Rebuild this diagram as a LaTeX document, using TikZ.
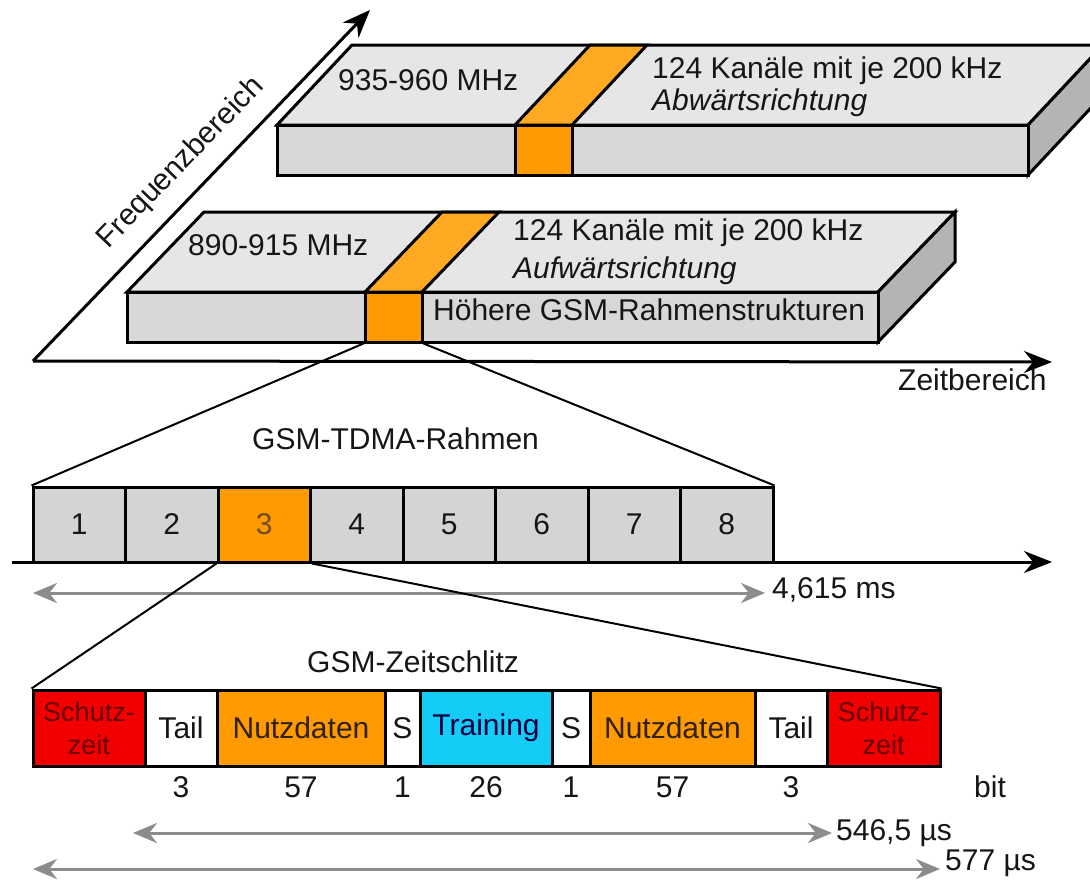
\documentclass[tikz,border=0pt]{standalone}
\usepackage{fontspec}
\setmainfont{Liberation Sans}
\usepackage{tikz}
\usetikzlibrary{arrows.meta}
\definecolor{txtgray}{HTML}{161616}
\definecolor{bandtop}{HTML}{E6E6E6}
\definecolor{bandfront}{HTML}{D8D8D8}
\definecolor{bandside}{HTML}{B4B4B4}
\definecolor{chanorange}{HTML}{FF9A00}
\definecolor{chantop}{HTML}{FFAA22}
\definecolor{slotgray}{HTML}{D4D4D4}
\definecolor{guardred}{HTML}{F20000}
\definecolor{trainblue}{HTML}{14CCF5}
\definecolor{dimgray}{HTML}{8C8C8C}
\tikzstyle{band}=[draw, line width=3pt, line join=miter]
\tikzstyle{chan}=[draw, line width=3pt, fill=chanorange, minimum width=57pt, minimum height=50pt, inner sep=0pt]
\tikzstyle{slot}=[draw, line width=3pt, fill=slotgray, minimum width=92.5pt, minimum height=75pt, inner sep=0pt]
\tikzstyle{burst}=[draw, line width=3pt, minimum height=76pt, inner sep=0pt, align=center]
\tikzstyle{axis}=[line width=3pt, -{Stealth[length=28pt, width=22pt]}]
\tikzstyle{dim}=[dimgray, line width=3pt, {Stealth[length=24pt, width=20pt]}-{Stealth[length=24pt, width=20pt]}]
\tikzstyle{zoomline}=[line width=2pt]

\begin{document}
\begin{tikzpicture}[x=1pt, y=-1pt, font=\fontsize{30}{34}\selectfont, text=txtgray]
    \clip (0,0) rectangle (1090,879);
    \fill[white] (0,0) rectangle (1090,879);

    \coordinate (o) at (33,361);
    \coordinate (fq) at (370,10);
    \coordinate (tm) at (1052,362);
    \draw[axis] (o) -- (fq);
    \draw[axis] (o) -- (tm);
    \node[rotate=46] (flabel) at (181,163) {Frequenzbereich};
    \node[anchor=base west, inner sep=0pt] (tlabel) at (898,390) {Zeitbereich};

    % Abwaertsrichtung
    \filldraw[band, fill=bandtop] (277,125) -- (352,45) -- (1103,45) -- (1028,125) -- cycle;
    \filldraw[band, fill=bandside] (1028,125) -- (1103,45) -- (1103,95) -- (1028,175) -- cycle;
    \filldraw[band, fill=bandfront] (277,125) rectangle (1028,175);
    \filldraw[band, fill=chantop] (515,125) -- (590,45) -- (647,45) -- (572,125) -- cycle;
    \node[chan] (dlch) at (543.5,150) {};
    \node[anchor=base west, inner sep=0pt] (dlfreq) at (338,90) {935-960 MHz};
    \node[anchor=base west, inner sep=0pt] (dlkan) at (652,78) {124 Kanäle mit je 200 kHz};
    \node[anchor=base west, inner sep=0pt] (dlname) at (652,110) {\itshape Abwärtsrichtung};

    % Aufwaertsrichtung
    \filldraw[band, fill=bandtop] (127,292) -- (204,212) -- (955,212) -- (878,292) -- cycle;
    \filldraw[band, fill=bandside] (878,292) -- (955,212) -- (955,262) -- (878,342) -- cycle;
    \filldraw[band, fill=bandfront] (127,292) rectangle (878,342);
    \filldraw[band, fill=chantop] (365,292) -- (442,212) -- (499,212) -- (422,292) -- cycle;
    \node[chan] (ulch) at (393.5,317) {};
    \node[anchor=base west, inner sep=0pt] (ulfreq) at (188,255) {890-915 MHz};
    \node[anchor=base west, inner sep=0pt] (ulkan) at (513,240) {124 Kanäle mit je 200 kHz};
    \node[anchor=base west, inner sep=0pt] (ulname) at (513,278) {\itshape Aufwärtsrichtung};
    \node[anchor=base west, inner sep=0pt] (ulrahmen) at (433,320) {Höhere GSM-Rahmenstrukturen};

    % TDMA-Rahmen
    \node[anchor=base west, inner sep=0pt] (tdma) at (252,449) {GSM-TDMA-Rahmen};
    \foreach \i in {1,2,4,5,6,7,8}
        \node[slot] (s\i) at ({92.5*\i-13.25},524.5) {\i};
    \node[slot, fill=chanorange, text=brown!60!black] (s3) at (264.25,524.5) {3};
    \coordinate (f0) at (12,562);
    \coordinate (f1) at (1052,562);
    \draw[axis] (f0) -- (f1);
    \draw[zoomline] (ulch.south west) -- (s1.north west);
    \draw[zoomline] (ulch.south east) -- (s8.north east);
    \coordinate (fa) at (33,593);
    \coordinate (fb) at (765,593);
    \draw[dim] (fa) -- (fb);
    \node[anchor=base west, inner sep=0pt] (fdur) at (772,598) {4,615 ms};

    % Zeitschlitz
    \node[anchor=base west, inner sep=0pt] (zs) at (307,672) {GSM-Zeitschlitz};
    \node[burst, fill=guardred, minimum width=112pt, text=red!40!black, font=\fontsize{27}{33}\selectfont] (g1) at (89,728) {Schutz-\\zeit};
    \node[burst, fill=white, minimum width=72pt] (g2) at (181,728) {Tail};
    \node[burst, fill=chanorange, minimum width=168pt, text=brown!25!black] (g3) at (301,728) {Nutzdaten};
    \node[burst, fill=white, minimum width=35pt] (g4) at (402.5,728) {S};
    \node[burst, fill=trainblue, minimum width=132pt, text=blue!25!black] (g5) at (486,728) {Training};
    \node[burst, fill=white, minimum width=38pt] (g6) at (571,728) {S};
    \node[burst, fill=chanorange, minimum width=165pt, text=brown!25!black] (g7) at (672.5,728) {Nutzdaten};
    \node[burst, fill=white, minimum width=72pt] (g8) at (791,728) {Tail};
    \node[burst, fill=guardred, minimum width=113pt, text=red!40!black, font=\fontsize{27}{33}\selectfont] (g9) at (883.5,728) {Schutz-\\zeit};
    \draw[zoomline] (s3.south west) -- (g1.north west);
    \draw[zoomline] (s3.south east) -- (g9.north east);

    \coordinate (brow) at (0,797);
    \foreach \g/\b in {2/3,3/57,4/1,5/26,6/1,7/57,8/3}
        \node[anchor=base, inner sep=0pt] (b\g) at (g\g.center |- brow) {\b};
    \node[anchor=base, inner sep=0pt] (bunit) at (990,797) {bit};

    \coordinate (ba) at (133,833);
    \coordinate (bb) at (832,833);
    \draw[dim] (ba) -- (bb);
    \node[anchor=base west, inner sep=0pt] (bdur) at (836,840) {546,5 µs};
    \coordinate (ca) at (33,869);
    \coordinate (cb) at (940,869);
    \draw[dim] (ca) -- (cb);
    \node[anchor=base west, inner sep=0pt] (cdur) at (945,870) {577 µs};
\end{tikzpicture}
\end{document}
